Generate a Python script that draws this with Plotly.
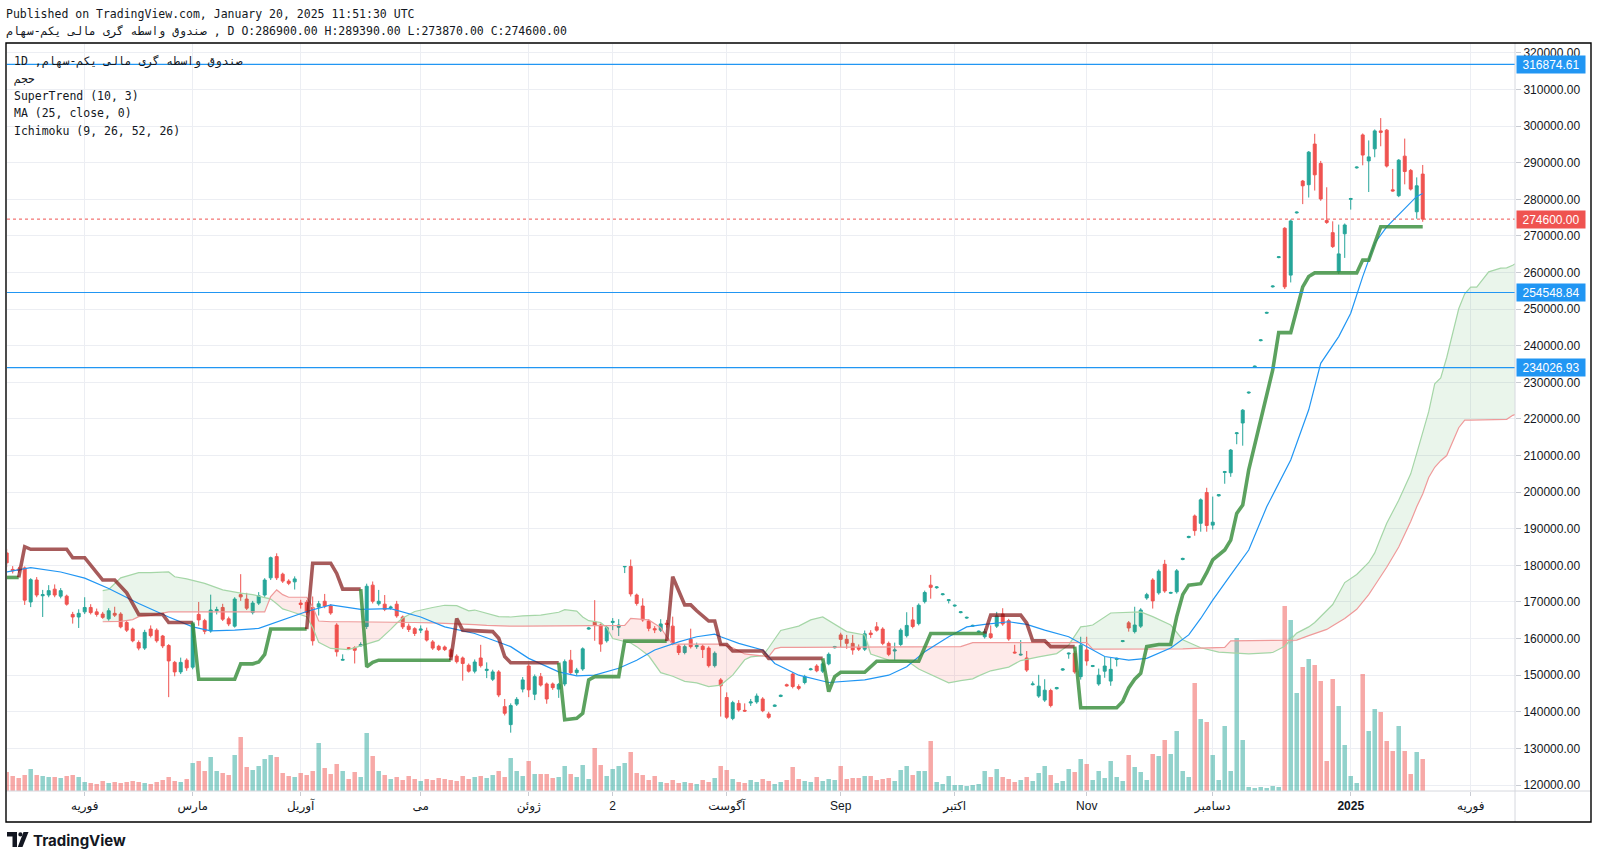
import numpy as np
import plotly.graph_objects as go

# ---------------- data (prices in thousands) ----------------
open_k = [183.4,178.9,179.0,179.3,170.0,176.0,171.7,171.9,173.5,171.6,
171.6,166.6,165.9,167.3,168.5,167.3,166.7,165.4,166.9,166.7,
164.4,162.6,158.9,157.4,162.6,162.3,160.7,158.1,153.5,150.9,
154.1,152.2,166.6,164.9,162.1,167.6,168.5,165.4,163.4,172.0,
170.8,167.1,169.7,171.9,176.6,182.4,177.6,175.7,175.5,169.7,
169.9,168.5,168.6,170.2,168.9,163.7,154.1,157.5,157.5,158.0,
163.3,174.6,169.5,169.4,168.4,169.4,165.9,163.4,162.7,162.3,
162.1,159.1,157.9,157.7,156.9,155.2,154.7,152.7,151.1,154.7,
151.3,148.9,150.9,141.4,136.5,142.1,146.2,152.5,144.8,149.6,
147.6,147.6,146.2,147.6,154.1,150.7,151.7,162.6,164.6,163.7,
159.4,164.4,163.1,179.6,179.7,171.9,168.9,164.8,162.7,162.3,
164.2,163.4,158.0,156.2,159.8,157.8,157.9,157.4,152.6,148.7,
143.9,138.2,142.3,140.4,142.4,142.7,143.5,139.4,141.5,144.2,
147.4,150.3,146.9,148.0,151.5,152.5,151.1,153.1,157.5,161.0,
159.8,158.7,157.6,157.1,161.5,163.2,162.6,158.7,156.6,158.4,
160.8,165.1,164.1,170.1,174.6,173.9,172.0,170.4,168.9,167.1,
165.6,163.4,161.8,160.5,161.3,163.4,166.7,164.9,156.3,155.5,
154.7,147.4,144.3,143.2,145.8,146.3,151.4,155.8,156.0,149.6,
156.9,152.4,147.6,151.1,148.4,154.3,159.2,164.3,161.9,163.4,
171.1,176.0,172.5,180.3,172.4,172.8,181.6,187.6,193.5,191.5,
199.9,191.0,199.0,205.4,205.3,216.0,218.9,227.1,234.2,241.4,
248.9,256.1,264.1,272.1,259.3,276.3,285.0,284.0,295.1,289.8,
274.2,270.9,260.2,270.6,280.0,288.6,297.6,290.5,293.8,298.7,
298.9,282.6,281.0,291.8,287.9,276.6,286.9]

high_k = [184.5,179.8,179.6,179.7,176.5,176.8,173.3,174.6,174.8,173.8,
172.0,167.3,168.0,171.3,169.4,168.2,167.3,168.3,168.7,167.2,
164.8,163.0,159.5,162.4,163.6,162.8,161.0,158.5,153.9,154.8,
154.6,164.7,170.0,165.4,172.0,168.7,169.5,166.0,171.3,177.6,
172.5,170.3,172.7,176.5,182.4,183.3,178.0,176.2,177.0,170.6,
170.5,171.5,170.3,172.2,169.4,164.2,155.7,157.7,157.9,159.0,
175.0,175.6,173.3,171.9,169.0,170.3,166.3,164.1,163.1,163.6,
163.0,159.6,158.3,158.1,157.3,155.7,155.1,153.2,154.3,158.3,
153.5,151.5,151.4,143.5,142.3,144.0,149.5,153.0,150.2,150.6,
148.0,148.0,147.9,154.3,156.9,152.0,157.6,163.2,170.5,164.1,
163.7,165.6,165.3,179.8,181.6,172.3,171.0,165.3,163.4,165.3,
165.1,166.0,158.5,158.5,162.7,158.9,158.4,157.9,156.5,149.2,
145.3,143.0,143.2,142.3,143.5,145.0,144.0,140.0,142.0,144.7,
147.7,150.8,147.5,150.1,152.0,153.0,153.6,156.2,158.0,161.6,
161.0,161.0,158.4,162.2,162.3,164.5,163.1,159.2,158.9,162.8,
167.2,168.6,169.6,173.1,177.4,174.3,172.4,170.7,169.3,167.5,
166.0,163.8,162.2,162.7,163.6,167.3,168.3,165.4,158.3,159.6,
156.6,148.3,150.1,148.9,146.3,146.8,151.9,156.2,156.6,160.5,
160.5,152.8,151.8,155.0,154.7,154.8,159.6,164.8,168.7,168.3,
172.5,176.5,178.9,181.5,172.8,179.0,182.1,188.1,193.9,198.3,
201.2,198.8,199.5,205.8,211.8,216.4,222.7,227.5,234.6,241.8,
249.3,256.5,264.5,272.4,274.5,276.7,285.3,293.2,297.9,290.5,
283.3,274.0,273.1,273.4,280.4,289.0,298.0,296.1,299.1,302.2,
299.2,288.3,291.0,296.6,288.3,286.0,289.39]

low_k = [179.5,177.8,178.0,169.2,168.6,171.3,165.9,171.3,171.3,171.0,
169.0,164.1,162.9,166.7,166.6,166.0,165.4,164.9,165.9,162.8,
161.8,159.0,156.8,156.9,160.3,158.9,157.4,144.0,149.7,150.3,
151.2,151.6,163.5,161.2,161.6,166.6,164.8,163.4,163.0,170.3,
167.8,166.6,169.2,171.4,176.0,176.0,175.2,174.6,173.4,168.2,
166.5,158.1,166.3,168.3,166.5,155.1,154.0,157.1,153.2,157.8,
162.6,169.6,169.0,167.5,167.9,165.7,162.6,161.8,160.7,161.5,
159.2,156.9,156.6,156.6,154.6,153.2,148.5,150.7,150.5,152.1,
149.2,148.4,144.0,139.0,134.3,141.6,145.3,144.0,143.2,146.9,
142.2,146.0,143.8,147.0,150.2,149.9,151.2,162.4,159.4,156.4,
158.9,162.3,160.7,177.9,171.5,169.0,164.6,162.0,161.5,161.8,
163.0,158.2,155.5,155.7,157.3,157.2,154.7,152.1,152.1,138.7,
138.0,137.7,140.0,140.0,141.6,142.2,139.9,138.1,141.3,144.0,
146.9,146.4,145.9,147.5,151.3,150.8,150.6,152.7,157.3,157.6,
157.2,155.6,156.6,156.6,160.2,161.9,158.2,155.2,154.1,157.9,
160.3,162.8,163.6,169.6,170.9,173.6,171.8,169.6,168.7,166.9,
165.4,163.2,161.6,160.0,159.9,162.9,163.5,159.4,155.9,155.3,
150.9,147.2,143.8,142.7,141.2,146.1,151.2,154.5,150.4,148.8,
152.6,152.2,147.1,149.3,147.1,152.4,159.0,161.9,161.4,162.9,
170.6,168.2,172.0,172.5,172.2,172.3,181.4,187.4,188.1,189.2,
189.2,189.8,198.8,202.3,204.2,213.1,212.7,226.9,234.0,241.2,
248.7,255.9,263.9,255.5,257.3,276.1,278.7,280.5,282.4,279.6,
273.3,266.7,259.6,264.0,277.2,288.4,289.3,282.0,291.5,294.5,
288.7,282.1,280.6,284.1,282.4,274.7,273.87]

close_k = [180.7,178.5,178.6,170.5,176.1,171.9,172.0,173.1,171.9,173.1,
169.4,165.9,166.9,168.5,167.1,166.6,165.8,167.6,166.4,163.2,
162.3,159.4,157.4,161.7,160.8,159.4,158.0,153.9,150.9,153.5,
152.0,164.0,165.1,162.0,167.8,167.9,165.3,164.0,170.8,171.4,
168.3,169.7,171.7,176.0,182.1,176.6,175.7,175.1,176.3,169.3,
167.1,159.4,169.5,168.9,167.0,156.4,154.3,157.3,156.8,158.4,
174.3,170.2,170.2,168.0,168.6,166.2,163.2,162.5,161.4,162.6,
159.6,157.4,157.0,157.0,155.1,153.7,153.2,151.1,153.6,152.6,
151.6,150.9,144.6,139.6,141.7,143.4,148.7,146.0,149.6,147.3,
143.5,146.6,147.5,153.7,150.7,151.4,157.2,162.9,163.7,158.5,
163.0,164.7,163.7,179.7,172.2,169.6,165.1,162.8,162.4,164.0,
163.9,158.7,156.2,157.8,157.8,158.1,157.0,152.6,156.0,147.1,
138.5,142.5,140.5,140.2,142.7,144.3,140.3,138.5,141.8,144.5,
147.1,146.9,146.4,149.6,151.7,151.2,153.1,155.7,157.8,159.8,
158.7,156.9,157.1,161.3,161.1,162.3,158.7,155.7,156.9,162.3,
163.6,163.3,169.1,172.6,174.0,174.1,172.2,170.6,169.1,167.3,
165.8,163.6,162.0,161.9,160.3,166.2,164.0,159.9,156.1,155.7,
151.4,147.6,147.0,145.9,141.7,146.6,151.7,156.0,150.9,158.2,
153.9,152.6,150.0,152.5,151.6,154.6,159.4,162.9,163.7,167.8,
172.0,170.3,178.4,173.0,172.6,178.5,181.9,187.9,189.5,197.9,
190.9,191.8,199.3,205.6,211.5,216.2,222.4,227.3,234.4,241.6,
249.1,256.3,264.3,256.1,274.1,276.5,283.7,292.9,286.7,280.1,
273.7,267.1,265.1,273.0,280.2,288.8,292.1,291.6,298.7,298.3,
289.1,282.3,290.7,287.6,282.8,283.7,274.6]

volume = [19,15,13,16,22,16,15,14,14,13,15,16,14,
9,8,7,10,8,9,8,9,10,9,8,7,9,11,14,10,9,12,
28,30,20,34,20,18,16,36,54,24,21,25,32,36,34,18,15,14,
18,16,20,48,23,17,27,20,12,19,14,58,35,20,16,
12,14,11,15,12,10,12,11,13,12,11,10,15,12,14,15,13,16,
20,14,33,20,15,30,17,17,17,13,14,25,17,14,26,12,43,26,15,22,
25,28,39,18,16,11,15,9,8,11,8,9,8,7,11,9,13,
25,21,12,9,8,11,9,12,10,7,9,11,24,12,10,9,14,10,12,11,
25,12,13,13,15,15,11,12,13,10,21,25,16,20,20,50,9,7,15,6,
6,5,6,7,20,14,22,14,12,9,11,14,10,18,25,16,8,10,22,19,
32,27,11,20,13,30,14,10,36,24,19,11,37,35,51,37,60,20,14,108,
72,69,36,11,65,20,153,51,4,3,4,3,5,4,185,171,98,124,132,126,
110,30,112,85,46,15,8,117,60,82,79,50,40,65,40,17,39,32]

# Ichimoku cloud (leading spans, shifted forward), thousands
cloud_idx = [16,17,19,21,22,24,27,28,30,33,36,39,41,43,44,45,46,47,50,51,
52,54,57,59,62,64,65,66,68,71,73,75,77,78,80,82,84,86,89,92,
93,95,96,97,99,100,101,103,104,105,107,109,110,111,113,115,117,119,121,122,
123,124,126,127,128,129,132,134,136,138,140,143,144,147,150,152,154,157,159,161,
162,164,167,169,172,175,177,178,179,180,181,184,187,189,191,194,196,199,202,203,
204,207,211,213,215,217,218,220,221,223,225,227,228,229,230,232,234,235,236,237,
238,239,240,242,243,244,245,247,249,250,251,252]
span_a_k = [173.1,173.4,176.6,177.6,178.0,178.0,178.2,176.9,176.3,175.1,173.3,172.4,172.0,171.2,170.8,169.5,168.1,167.6,166.0,163.0,
159.0,157.3,157.0,158.0,159.5,162.5,164.2,165.6,167.4,168.5,169.1,169.0,167.6,167.8,167.0,166.0,165.9,166.2,166.4,167.2,
167.9,167.5,165.9,164.9,164.4,163.0,160.0,159.2,158.8,157.8,155.3,150.7,150.2,149.7,148.3,147.9,146.9,147.3,150.0,152.0,
154.2,155.0,155.3,157.5,159.9,162.2,163.4,165.1,165.9,164.0,161.9,161.0,155.8,154.1,154.0,151.7,150.2,147.9,148.5,149.0,
149.8,151.2,152.2,154.0,155.0,155.9,158.2,160.8,163.2,163.4,163.7,167.0,167.1,167.3,166.0,163.7,159.7,157.5,156.3,156.2,
156.0,155.8,156.2,157.9,161.5,163.2,164.4,167.8,169.3,175.3,177.5,180.8,183.4,187.5,191.5,197.8,205.0,210.6,216.0,222.0,
229.6,231.2,236.8,250.1,254.2,256.0,256.0,260.2,261.2,261.3,262.0,263.0]
span_b_k = [164.6,164.6,164.7,165.2,166.0,166.3,167.3,167.3,167.3,167.3,167.3,167.3,167.3,167.3,171.5,173.3,172.0,171.3,171.3,168.7,
164.8,164.6,164.6,164.6,164.6,164.6,164.6,164.6,164.4,164.3,164.2,164.0,163.9,163.8,163.6,163.4,163.4,163.4,163.4,163.4,
163.4,163.4,163.4,163.4,163.4,163.4,163.4,163.6,165.5,165.4,165.1,163.0,160.5,158.5,158.5,158.5,158.5,158.5,157.5,156.6,
155.8,155.6,155.2,155.1,157.2,157.6,157.6,157.6,157.7,157.8,157.8,157.8,157.8,157.8,157.8,157.8,157.8,157.8,157.8,158.9,
158.9,158.9,158.9,158.9,158.9,158.9,158.9,158.9,158.9,158.9,157.1,157.1,157.1,157.1,157.1,157.1,157.2,157.4,157.6,157.6,
159.4,159.4,159.4,159.4,159.6,160.8,161.4,162.5,163.5,165.5,168.0,172.0,174.5,177.0,179.5,185.0,192.0,196.0,199.5,204.0,
206.8,208.6,210.0,217.6,219.7,219.7,219.7,219.7,219.7,219.9,221.0,221.5]

# MA(25) read at knots
ma_idx = [0,4,9,13,17,22,27,31,34,38,42,46,50,54,59,64,69,73,78,81,
84,87,92,95,98,102,105,108,112,115,118,119,122,126,128,132,135,137,143,147,
150,153,157,160,163,167,170,173,177,180,183,187,190,194,197,199,201,204,207,210,
214,217,219,222,224,226,228,230,233,235,236]
ma_k = [178.2,179.4,178.2,176.5,173.7,169.6,165.9,163.2,162.1,162.3,162.8,165.2,167.4,169.2,168.0,168.2,165.9,163.2,161.4,159.6,
157.8,154.6,150.9,149.8,150.0,151.9,154.1,156.9,159.1,160.5,161.2,160.5,158.7,156.9,153.2,150.0,148.7,148.0,148.7,150.0,
152.3,156.4,160.5,163.2,163.9,164.6,163.9,162.3,160.5,157.8,155.1,154.1,154.6,157.4,161.0,165.5,170.5,177.4,184.2,196.0,
208.8,222.5,235.2,242.5,248.9,258.9,268.0,272.5,277.6,280.8,281.6]

# SuperTrend(10,3) read at knots; trend 1 = up (green), -1 = down (red)
st_idx = [0,2, 3,4,10,11,13,16,18,20,22,26,27,31, 32,38,39,41,42,43,44,50, 51,54,55,56,59,
          60,61,62,74, 75,76,81,82,83,84,92, 93,95,96,97,98,102,103,110,
          111,113,114,115,117,118,119,120,121,126,127,136, 137,138,139,143,145,152,154,163,
          164,169,170,171,173,174,178,
          179,185,186,187,188,189,190,192,194,195,196,197,199,200,201,203,204,205,206,207,209,211,212,214,216,217,218,225,226,227,229,236]
st_k = [176.7,176.7, 185.1,184.4,184.4,182.1,182.1,176.0,176.0,172.5,166.6,166.6,164.4,164.4,
        148.9,148.9,153.1,153.1,153.6,155.7,162.6,162.6, 180.6,180.6,177.8,173.5,173.5,
        152.3,153.5,154.1,154.1, 165.5,162.3,161.9,160.1,155.1,153.4,153.4,
        137.8,138.2,139.6,148.7,149.6,149.6,159.3,159.3,
        176.9,169.2,169.2,167.6,164.8,164.8,158.4,158.4,156.6,156.6,154.6,154.6,
        145.5,149.6,150.8,150.8,153.8,153.8,161.4,161.4,
        166.4,166.4,164.2,159.4,159.4,157.8,157.8,
        141.1,141.1,142.8,146.5,148.9,150.5,157.8,158.4,158.4,166.0,172.0,174.6,175.0,178.0,181.5,184.2,
        186.9,194.2,196.5,206.1,219.7,233.4,243.6,243.6,256.1,258.9,259.9,259.9,263.4,263.4,272.5,272.5]
st_trend = [1]*2 + [-1]*12 + [1]*8 + [-1]*5 + [1]*4 + [-1]*7 + [1]*8 + [-1]*12 + [1]*8 + [-1]*7 + [1]*32

hlines = [316874.61, 254548.84, 234026.93]
last_price = 274600.0

month_idx = [13, 31, 49, 69, 87, 101, 120, 139, 158, 180, 201, 224, 244]
month_labels = ["فوریه", "مارس", "آوریل", "می", "ژوئن", "2", "آگوست", "Sep", "اکتبر",
                "Nov", "دسامبر", "<b>2025</b>", "فوریه"]

symbol_name = "صندوق واسطه گری مالی یکم-سهام"
volume_label = "حجم"

assert len(open_k) == len(high_k) == len(low_k) == len(close_k) == len(volume)
assert len(cloud_idx) == len(span_a_k) == len(span_b_k)
assert len(ma_idx) == len(ma_k)
assert len(st_idx) == len(st_k) == len(st_trend)

# ---------------- figure ----------------
W, H = 1598, 858
PL, PR, PT, PB = 7, 1515, 44, 791     # plot area in px


def fx(px):
    return (px - PL) / (PR - PL)


def fy(py):
    return (PB - py) / (PB - PT)


N = len(close_k)
idx = list(range(N))
o = np.array(open_k) * 1000
h = np.array(high_k) * 1000
l = np.array(low_k) * 1000
c = np.array(close_k) * 1000

UP, DN = "#26a69a", "#ef5350"
fig = go.Figure()

# volume (base axis, drawn beneath the price layer)
vcol = ["rgba(38,166,154,0.5)" if cc >= oo else "rgba(239,83,80,0.5)" for oo, cc in zip(open_k, close_k)]
fig.add_trace(go.Bar(x=idx, y=volume, marker=dict(color=vcol, line=dict(width=0)), width=0.75,
                     xaxis="x", yaxis="y", hoverinfo="skip", showlegend=False))

# Ichimoku cloud
ca = np.array(span_a_k) * 1000
cb = np.array(span_b_k) * 1000
fig.add_trace(go.Scatter(x=cloud_idx, y=cb, mode="lines", line=dict(width=0), yaxis="y2",
                         hoverinfo="skip", showlegend=False))
fig.add_trace(go.Scatter(x=cloud_idx, y=np.maximum(ca, cb), mode="lines", line=dict(width=0), yaxis="y2",
                         fill="tonexty", fillcolor="rgba(67,160,71,0.11)", hoverinfo="skip", showlegend=False))
fig.add_trace(go.Scatter(x=cloud_idx, y=cb, mode="lines", line=dict(width=0), yaxis="y2",
                         hoverinfo="skip", showlegend=False))
fig.add_trace(go.Scatter(x=cloud_idx, y=np.minimum(ca, cb), mode="lines", line=dict(width=0), yaxis="y2",
                         fill="tonexty", fillcolor="rgba(244,67,54,0.11)", hoverinfo="skip", showlegend=False))
fig.add_trace(go.Scatter(x=cloud_idx, y=ca, mode="lines", line=dict(color="#a5d6a7", width=1.2), yaxis="y2",
                         hoverinfo="skip", showlegend=False))
fig.add_trace(go.Scatter(x=cloud_idx, y=cb, mode="lines", line=dict(color="#ef9a9a", width=1.2), yaxis="y2",
                         hoverinfo="skip", showlegend=False))

# candles
fig.add_trace(go.Candlestick(x=idx, open=o, high=h, low=l, close=c, yaxis="y2",
                             increasing=dict(line=dict(color=UP, width=1), fillcolor=UP),
                             decreasing=dict(line=dict(color=DN, width=1), fillcolor=DN),
                             whiskerwidth=0, hoverinfo="skip", showlegend=False))

# MA(25)
fig.add_trace(go.Scatter(x=ma_idx, y=np.array(ma_k) * 1000, mode="lines",
                         line=dict(color="#2196f3", width=1.2), yaxis="y2",
                         hoverinfo="skip", showlegend=False))

# SuperTrend: one trace per run of equal trend, joined to the previous run's last knot
runs = []
for k, t in enumerate(st_trend):
    if k == 0 or t != st_trend[k - 1]:
        runs.append([t, [k - 1] if k > 0 else []])
    runs[-1][1].append(k)
for t, ks in runs:
    fig.add_trace(go.Scatter(x=[st_idx[k] for k in ks], y=[st_k[k] * 1000 for k in ks], mode="lines",
                             line=dict(color="rgba(56,142,60,0.82)" if t == 1 else "rgba(125,14,14,0.68)",
                                       width=3.6),
                             yaxis="y2", hoverinfo="skip", showlegend=False))

shapes = []
for v in hlines:
    shapes.append(dict(type="line", xref="paper", yref="y2", x0=0, x1=1, y0=v, y1=v,
                       line=dict(color="#2196f3", width=1.2), layer="above"))
shapes.append(dict(type="line", xref="paper", yref="y2", x0=0, x1=1, y0=last_price, y1=last_price,
                   line=dict(color=DN, width=1, dash="dot"), layer="above"))
# price-axis separator and time-axis line
shapes.append(dict(type="line", xref="paper", yref="paper", x0=1, x1=1, y0=fy(822), y1=fy(43),
                   line=dict(color="#d6d8de", width=1)))
shapes.append(dict(type="line", xref="paper", yref="paper", x0=fx(6), x1=fx(1591), y0=0, y1=0,
                   line=dict(color="#d6d8de", width=1)))
# outer border
shapes.append(dict(type="rect", xref="paper", yref="paper", x0=fx(6), x1=fx(1591), y0=fy(822), y1=fy(43),
                   line=dict(color="#000000", width=1.4), fillcolor="rgba(0,0,0,0)"))


# TradingView logo mark (bottom-left)
def ppath(pts):
    return "M " + " L ".join(f"{fx(a):.5f},{fy(b):.5f}" for a, b in pts) + " Z"


LOGO = "#131722"
shapes.append(dict(type="path", xref="paper", yref="paper", path=ppath([(7, 832), (17, 832), (17, 836.5), (7, 836.5)]),
                   fillcolor=LOGO, line=dict(width=0)))
shapes.append(dict(type="path", xref="paper", yref="paper", path=ppath([(12.5, 832), (17, 832), (17, 847), (12.5, 847)]),
                   fillcolor=LOGO, line=dict(width=0)))
shapes.append(dict(type="circle", xref="paper", yref="paper", x0=fx(18.3), x1=fx(22.5), y0=fy(836.5), y1=fy(832.3),
                   fillcolor=LOGO, line=dict(width=0)))
shapes.append(dict(type="path", xref="paper", yref="paper", path=ppath([(23.5, 832), (28.5, 832), (22.5, 847), (17.8, 847)]),
                   fillcolor=LOGO, line=dict(width=0)))

MONO = "DejaVu Sans Mono"
SANS = "Liberation Sans, Arial, DejaVu Sans"
TXT = "#131722"
ann = []


def text_at(px, py, s, size=11.5, family=MONO, color=TXT, **kw):
    ann.append(dict(xref="paper", yref="paper", x=fx(px), y=fy(py), xanchor="left", yanchor="middle",
                    text=s, showarrow=False, font=dict(family=family, size=size, color=color), **kw))


text_at(4, 14.5, "Published on TradingView.com, January 20, 2025 11:51:30 UTC")
text_at(4, 31, symbol_name + " , D O:286900.00 H:289390.00 L:273870.00 C:274600.00")
text_at(12, 61.5, "1D ," + symbol_name)
text_at(12, 78.5, volume_label)
text_at(12, 96, "SuperTrend (10, 3)")
text_at(12, 113, "MA (25, close, 0)")
text_at(12, 130.5, "Ichimoku (9, 26, 52, 26)")
text_at(31, 840, "<b>TradingView</b>", size=15, family="Inter, Liberation Sans", color="#131722")

for v in hlines:
    ann.append(dict(xref="paper", yref="y2", x=1, y=v, xanchor="left", yanchor="middle", xshift=1,
                    text=f"{v:.2f}", showarrow=False, bgcolor="#2196f3", borderpad=2, width=64, height=13,
                    font=dict(family=SANS, size=12, color="#ffffff")))
ann.append(dict(xref="paper", yref="y2", x=1, y=last_price, xanchor="left", yanchor="middle", xshift=1,
                text=f"{last_price:.2f}", showarrow=False, bgcolor=DN, borderpad=2, width=64, height=13,
                font=dict(family=SANS, size=12, color="#ffffff")))

GRID = "#eceef3"
fig.update_layout(
    width=W, height=H,
    margin=dict(l=PL, r=W - PR, t=PT, b=H - PB),
    paper_bgcolor="#ffffff", plot_bgcolor="#ffffff",
    showlegend=False, boxgap=0.3,
    xaxis=dict(range=[0.05, 251.38], tickvals=month_idx, ticktext=month_labels,
               showgrid=True, gridcolor=GRID, gridwidth=1, zeroline=False, showline=False,
               ticks="outside", ticklen=4, tickcolor="#c9ccd3",
               tickfont=dict(family=SANS, size=12, color=TXT),
               rangeslider=dict(visible=False), fixedrange=True),
    yaxis=dict(range=[0, PB - PT], visible=False, showgrid=False, zeroline=False, fixedrange=True),
    yaxis2=dict(overlaying="y", side="right", anchor="x",
                range=[118361, 322441],
                tickvals=list(range(120000, 330000, 10000)), tickformat=".2f",
                showgrid=True, gridcolor=GRID, gridwidth=1, zeroline=False, showline=False,
                ticks="outside", ticklen=5, tickcolor="#c9ccd3",
                tickfont=dict(family=SANS, size=12, color=TXT), fixedrange=True),
    shapes=shapes, annotations=ann,
)

fig.write_html("out.html", config={"displayModeBar": False})
